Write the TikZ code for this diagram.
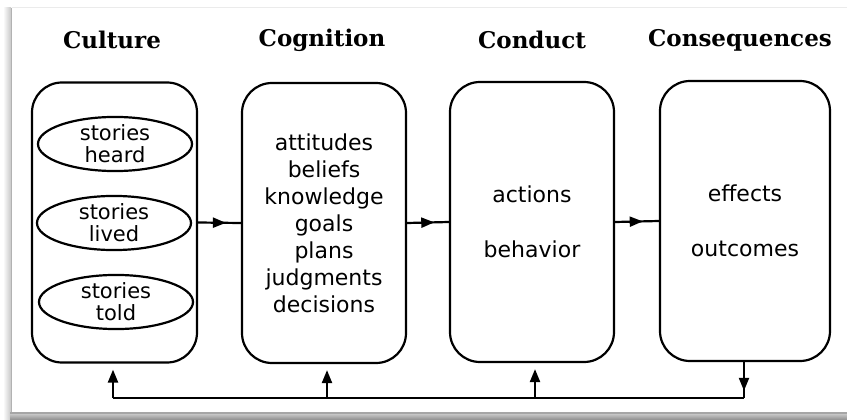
\documentclass[tikz,border=0pt]{standalone}
\usepackage{fontspec}
\setmainfont{DejaVu Sans}
\newfontfamily\headfont{DejaVu Serif}
\usetikzlibrary{arrows.meta,decorations.markings,shapes.geometric}
\begin{document}
\begin{tikzpicture}[x=1pt,y=-1pt,
  line width=2.2pt,
  stage/.style={draw,rounded corners=30pt,minimum width=#1,minimum height=280pt,
    inner sep=0pt,align=center,font=\fontsize{22}{27}\selectfont},
  story/.style={draw,ellipse,minimum width=154pt,minimum height=51pt,inner sep=0pt,
    align=center,font=\fontsize{21}{22}\selectfont},
  heading/.style={font=\headfont\bfseries\fontsize{23}{26}\selectfont},
  head/.style={Triangle[length=13pt,width=10pt]},
  midarrow/.style={postaction={decorate},decoration={markings,
    mark=at position #1 with {\arrow{Triangle[length=13pt,width=10pt]}}}}]
% page and its shadow
\useasboundingbox (0,0) rectangle (847,420);
\fill[white] (0,0) rectangle (847,420);
\shade[left color=white,right color=black!22,draw=none] (3,8) rectangle (11,420);
\fill[black!30] (10.5,8) rectangle (12,413);
\draw[black!8,line width=0.8pt] (12,7.5) -- (847,7.5);
\shade[top color=black!15,bottom color=black!45,draw=none] (10,412) rectangle (847,420);
\fill[black!35] (10,412) rectangle (847,413.5);

% headings
\node[heading] (h1) at (112,40) {Culture};
\node[heading] (h2) at (322,40) {Cognition};
\node[heading] (h3) at (532,40) {Conduct};
\node[heading] (h4) at (740,40) {Consequences};

% the four stages
\node[stage=165pt] (b1) at (114.5,222.5) {};
\node[stage=164pt] (b2) at (324,223) {attitudes\\beliefs\\knowledge\\goals\\plans\\judgments\\decisions};
\node[stage=164pt] (b3) at (532,222) {actions\\[28pt]behavior};
\node[stage=170pt] (b4) at (745,221) {effects\\[28pt]outcomes};

% stories within culture
\node[story] (s1) at (115,144) {stories\\heard};
\node[story] (s2) at (114,223) {stories\\lived};
\node[story] (s3) at (116,302) {stories\\told};

% forward flow
\draw[midarrow=0.65] (b1.east) -- (b2.west);
\draw[midarrow=0.65] (b2.east) -- (b3.west);
\draw[midarrow=0.63] (b3.east) -- (b4.west);

% feedback loop
\coordinate (fb1) at (113,398);
\coordinate (fb2) at (327,398);
\coordinate (fb3) at (535,398);
\coordinate (fb4) at (744,398);
\draw[midarrow=0.8] (b4.south -| fb4) -- (fb4);
\draw (fb4) -- (fb1);
\draw[-{Triangle[length=13pt,width=10pt]}] (fb1) -- ([yshift=-6pt]b1.south -| fb1);
\draw[-{Triangle[length=13pt,width=10pt]}] (fb2) -- ([yshift=-6pt]b2.south -| fb2);
\draw[-{Triangle[length=13pt,width=10pt]}] (fb3) -- ([yshift=-6pt]b3.south -| fb3);
\end{tikzpicture}
\end{document}
